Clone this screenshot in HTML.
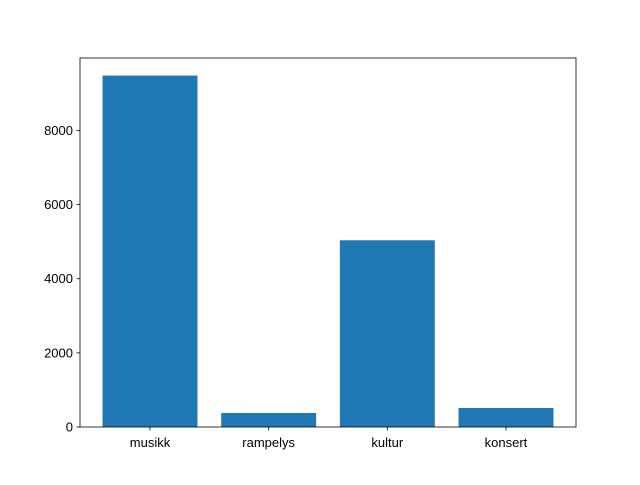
<!DOCTYPE html>
<html><head><meta charset="utf-8"><style>
body{margin:0;background:#fff;}
svg text{font-family:"Liberation Sans","DejaVu Sans",sans-serif;font-size:13px;fill:#000;}
</style></head><body>
<svg id="chart" width="640" height="480" xmlns="http://www.w3.org/2000/svg">
<rect width="640" height="480" fill="#fff"/>
<g id="bars"></g><g id="axes"></g>
</svg>
<script>
const categories = ["musikk","rampelys","kultur","konsert"];
const values = [9480, 377, 5037, 512];
const yTicks = [0, 2000, 4000, 6000, 8000];

const L=80,R=576,T=58,B=427;
const ymax=Math.max(...values)*1.05;
const xmin=-0.59,xmax=categories.length-1+0.59;
const xs=i=>L+(i-xmin)/(xmax-xmin)*(R-L);
const ys=v=>B-v/ymax*(B-T);
const NS="http://www.w3.org/2000/svg";
function mk(tag,attrs,parent){const e=document.createElementNS(NS,tag);for(const k in attrs)e.setAttribute(k,attrs[k]);parent.appendChild(e);return e;}
const bars=document.getElementById('bars'),axes=document.getElementById('axes');
const bw=0.8*(R-L)/(xmax-xmin);
categories.forEach((c,i)=>{
  const r=mk('rect',{x:xs(i)-bw/2,y:ys(values[i]),width:bw,height:B-ys(values[i]),fill:'#1f77b4'},bars);
  
  
  const t=mk('line',{x1:xs(i),x2:xs(i),y1:B,y2:B+3.5,stroke:'#000','stroke-width':0.8},axes);
  
  
  const tx=mk('text',{x:xs(i),y:B+20,'text-anchor':'middle'},axes);
  tx.textContent=c;
  
  
});
yTicks.forEach(v=>{
  const t=mk('line',{x1:L-3.5,x2:L,y1:ys(v),y2:ys(v),stroke:'#000','stroke-width':0.8},axes);
  
  
  const tx=mk('text',{x:L-7,y:ys(v)+4.5,'text-anchor':'end'},axes);
  tx.textContent=v;
  
  
});
const f=mk('rect',{x:L,y:T,width:R-L,height:B-T,fill:'none',stroke:'#000','stroke-width':0.8},axes);


</script>
</body></html>
